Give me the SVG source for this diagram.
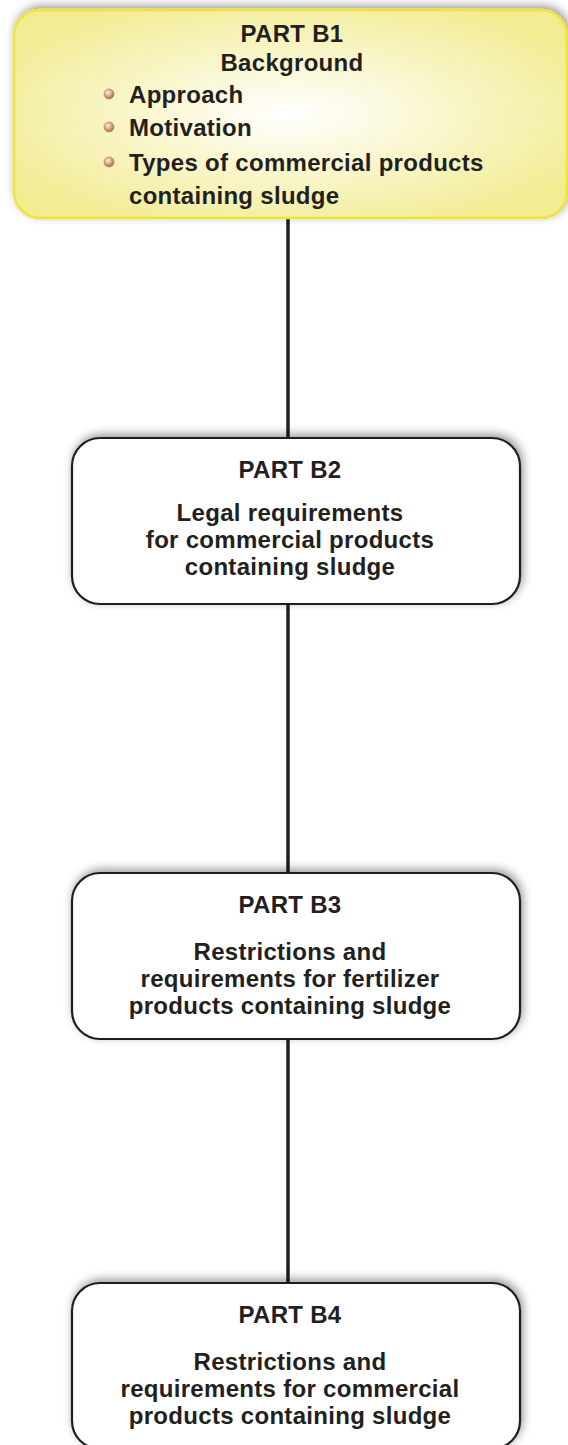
<svg xmlns="http://www.w3.org/2000/svg" width="568" height="1445" viewBox="0 0 568 1445">
<style>
.t{font-family:"Liberation Sans",Arial,sans-serif;font-weight:bold;font-size:24px;letter-spacing:0.3px;fill:#231f20;text-anchor:middle}
.tl{font-family:"Liberation Sans",Arial,sans-serif;font-weight:bold;font-size:24px;letter-spacing:0.3px;fill:#231f20}
.box{fill:#ffffff;stroke:#231f20;stroke-width:2.2;filter:url(#sh)}
.conn{stroke:#231f20;stroke-width:3.5;fill:none}
.bul{fill:url(#bul);stroke:#b07a55;stroke-width:0.6}
</style>
<defs>
<filter id="sh" x="-10%" y="-20%" width="120%" height="140%">
<feDropShadow dx="2" dy="-3" stdDeviation="5" flood-color="#000" flood-opacity="0.4"/>
</filter>
<radialGradient id="yg" cx="0.5" cy="0.5" r="0.6">
<stop offset="0" stop-color="#ffffff"/>
<stop offset="1" stop-color="#f2ec92"/>
</radialGradient>
<radialGradient id="bul" cx="0.4" cy="0.35" r="0.65">
<stop offset="0" stop-color="#fbeee4"/>
<stop offset="0.55" stop-color="#d9a684"/>
<stop offset="1" stop-color="#a36a45"/>
</radialGradient>
</defs>
<g id="connectors">
<line class="conn" x1="288" y1="218" x2="288" y2="438"/>
<line class="conn" x1="288" y1="604" x2="288" y2="873"/>
<line class="conn" x1="288" y1="1039" x2="288" y2="1283"/>
</g>
<g id="b1">
<rect x="14" y="10" width="553" height="208" rx="26" fill="url(#yg)" stroke="#f0e435" stroke-width="2.5" filter="url(#sh)"/>
<text class="t" x="292" y="42">PART B1</text>
<text class="t" x="292" y="71">Background</text>
<circle class="bul" cx="109" cy="94" r="5"/>
<circle class="bul" cx="109" cy="127" r="5"/>
<circle class="bul" cx="109" cy="162" r="5"/>
<text class="tl" x="129" y="103">Approach</text>
<text class="tl" x="129" y="136">Motivation</text>
<text class="tl" x="129" y="171">Types of commercial products</text>
<text class="tl" x="129" y="204">containing sludge</text>
</g>
<g id="b2">
<rect class="box" x="72" y="438" width="448" height="166" rx="28"/>
<text class="t" x="290" y="478">PART B2</text>
<text class="t" x="290" y="521">Legal requirements</text>
<text class="t" x="290" y="548">for commercial products</text>
<text class="t" x="290" y="575">containing sludge</text>
</g>
<g id="b3">
<rect class="box" x="72" y="873" width="448" height="166" rx="28"/>
<text class="t" x="290" y="913">PART B3</text>
<text class="t" x="290" y="960">Restrictions and</text>
<text class="t" x="290" y="987">requirements for fertilizer</text>
<text class="t" x="290" y="1014">products containing sludge</text>
</g>
<g id="b4">
<rect class="box" x="72" y="1283" width="448" height="166" rx="28"/>
<text class="t" x="290" y="1323">PART B4</text>
<text class="t" x="290" y="1370">Restrictions and</text>
<text class="t" x="290" y="1397">requirements for commercial</text>
<text class="t" x="290" y="1424">products containing sludge</text>
</g>
</svg>
